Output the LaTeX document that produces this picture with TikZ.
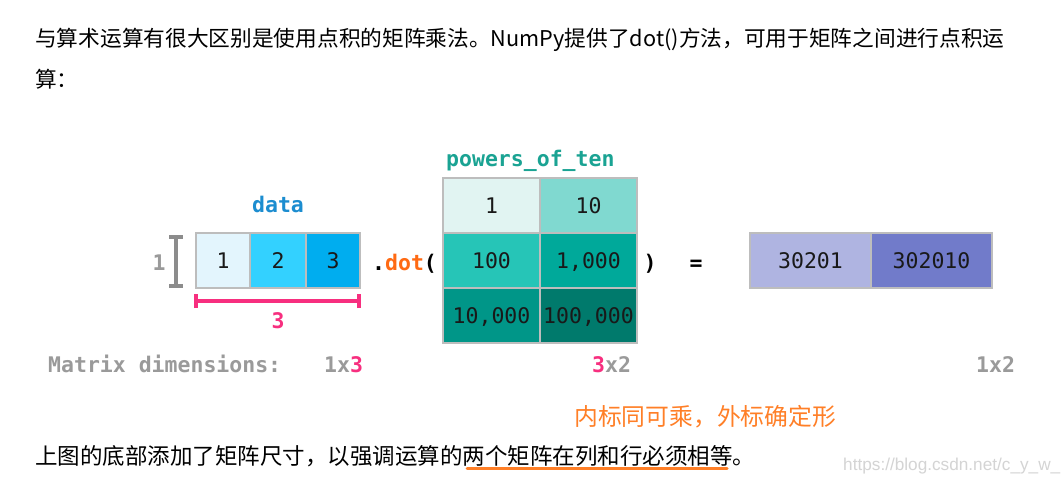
\documentclass[tikz,border=0pt]{standalone}
\usepackage{fontspec}
\setmainfont{Liberation Sans}
\newfontfamily\cjk{Noto Sans CJK SC}
\newfontfamily\mono{DejaVu Sans Mono}
\newfontfamily\wmfont{Liberation Sans}
\definecolor{cellborder}{HTML}{BDBDBD}
\definecolor{datablue}{HTML}{1C8DD0}
\definecolor{teallabel}{HTML}{1AA393}
\definecolor{dimgray}{HTML}{9A9A9A}
\definecolor{brgray}{HTML}{8C8C8C}
\definecolor{pink}{HTML}{F72F7F}
\definecolor{dotorange}{HTML}{FF6A13}
\definecolor{noteorange}{HTML}{FF7F27}
\definecolor{wmgray}{HTML}{D4D4D4}
\definecolor{dA}{HTML}{E3F5FD}
\definecolor{dB}{HTML}{33D1FF}
\definecolor{dC}{HTML}{00ADEF}
\definecolor{pA}{HTML}{E1F4F2}
\definecolor{pB}{HTML}{80D9D0}
\definecolor{pC}{HTML}{26C5B7}
\definecolor{pD}{HTML}{00A99A}
\definecolor{pE}{HTML}{009688}
\definecolor{pF}{HTML}{007A6C}
\definecolor{rA}{HTML}{AFB4E1}
\definecolor{rB}{HTML}{717BCA}
\begin{document}
\begin{tikzpicture}[x=1pt,y=-1pt,
  cjktext/.style={inner sep=0pt, font=\cjk\fontsize{21.7}{24}\selectfont, text=black},
  cell/.style={draw=cellborder, line width=1.5pt, inner sep=0pt, anchor=center,
    text height=15.6pt, text depth=0pt,
    font=\mono\fontsize{21.5}{22}\selectfont, text={black!90}},
  lbl/.style={inner sep=0pt, font=\mono\bfseries\fontsize{21.5}{22}\selectfont},
  bracket/.style={line width=3.5pt}
]
\useasboundingbox[fill=white] (0,0) rectangle (1064,482);

% top paragraph
\node[cjktext, anchor=base west] (l1) at (35,46.5) {与算术运算有很大区别是使用点积的矩阵乘法。NumPy提供了dot()方法，可用于矩阵之间进行点积运};
\node[cjktext, anchor=base west] (l2) at (35,87) {算：};

% data
\node[lbl, text=datablue, anchor=base] (datalbl) at (278,212) {data};
\node[cell, fill=dA, minimum width=54, minimum height=55] (d1) at (223,260.5) {1};
\node[cell, fill=dB, minimum width=56, minimum height=55] (d2) at (278,260.5) {2};
\node[cell, fill=dC, minimum width=54, minimum height=55] (d3) at (333,260.5) {3};

% row dimension
\node[lbl, text=dimgray, anchor=base] (one) at (159,270) {1};
\coordinate (vt) at (176,237);
\coordinate (vb) at (176,286);
\draw[bracket, brgray] (vt) -- (vb);
\draw[bracket, brgray] ([xshift=-7]vt) -- ([xshift=7]vt);
\draw[bracket, brgray] ([xshift=-7]vb) -- ([xshift=7]vb);

% column dimension
\coordinate (hl) at (196,301);
\coordinate (hr) at (359,301);
\draw[bracket, pink] (hl) -- (hr);
\draw[bracket, pink] ([yshift=-7]hl) -- ([yshift=7]hl);
\draw[bracket, pink] ([yshift=-7]hr) -- ([yshift=7]hr);
\node[lbl, text=pink, anchor=base] (three) at (278,328) {3};

% .dot(
\node[lbl, anchor=base west] (dot) at (372,270) {.\textcolor{dotorange}{dot}(};

% powers_of_ten
\node[lbl, text=teallabel, anchor=base west] (powlbl) at (446,166) {powers\_of\_ten};
\node[cell, fill=pA, minimum width=97, minimum height=55] (p11) at (491.5,205.5) {1};
\node[cell, fill=pB, minimum width=97, minimum height=55] (p12) at (588.5,205.5) {10};
\node[cell, fill=pC, minimum width=97, minimum height=55] (p21) at (491.5,260.5) {100};
\node[cell, fill=pD, minimum width=97, minimum height=55] (p22) at (588.5,260.5) {1,000};
\node[cell, fill=pE, minimum width=97, minimum height=55] (p31) at (491.5,315.5) {10,000};
\node[cell, fill=pF, minimum width=97, minimum height=55] (p32) at (588.5,315.5) {100,000};

\node[lbl, anchor=base] (close) at (650,270) {)};
\node[lbl, anchor=base] (eq) at (696,270) {=};

% result
\node[cell, fill=rA, minimum width=121, minimum height=55] (r1) at (810.5,260.5) {30201};
\node[cell, fill=rB, minimum width=121, minimum height=55] (r2) at (931.5,260.5) {302010};

% dimensions row
\node[lbl, text=dimgray, anchor=base west] (mdim) at (48,372) {Matrix dimensions:};
\node[lbl, text=dimgray, anchor=base west] (dim1) at (324,372) {1x\textcolor{pink}{3}};
\node[lbl, text=dimgray, anchor=base west] (dim2) at (592,372) {\textcolor{pink}{3}x2};
\node[lbl, text=dimgray, anchor=base west] (dim3) at (976,372) {1x2};

% note
\node[cjktext, text=noteorange, font=\cjk\fontsize{23.8}{26}\selectfont, anchor=base west] (note) at (574,425) {内标同可乘，外标确定形};

% bottom paragraph
\node[cjktext, font=\cjk\fontsize{22.5}{25}\selectfont, anchor=base west] (l3) at (35,464) {上图的底部添加了矩阵尺寸，以强调运算的两个矩阵在列和行必须相等。};
\coordinate (u1) at (467,468);
\coordinate (u2) at (727,468);
\draw[noteorange, line width=3pt, line cap=round] (u1) -- (u2);

% watermark
\node[inner sep=0pt, anchor=base west, font=\wmfont\fontsize{17.2}{19}\selectfont, text=wmgray] (wm) at (843,470) {https://blog.csdn.net/c\_y\_w\_};
\end{tikzpicture}
\end{document}
